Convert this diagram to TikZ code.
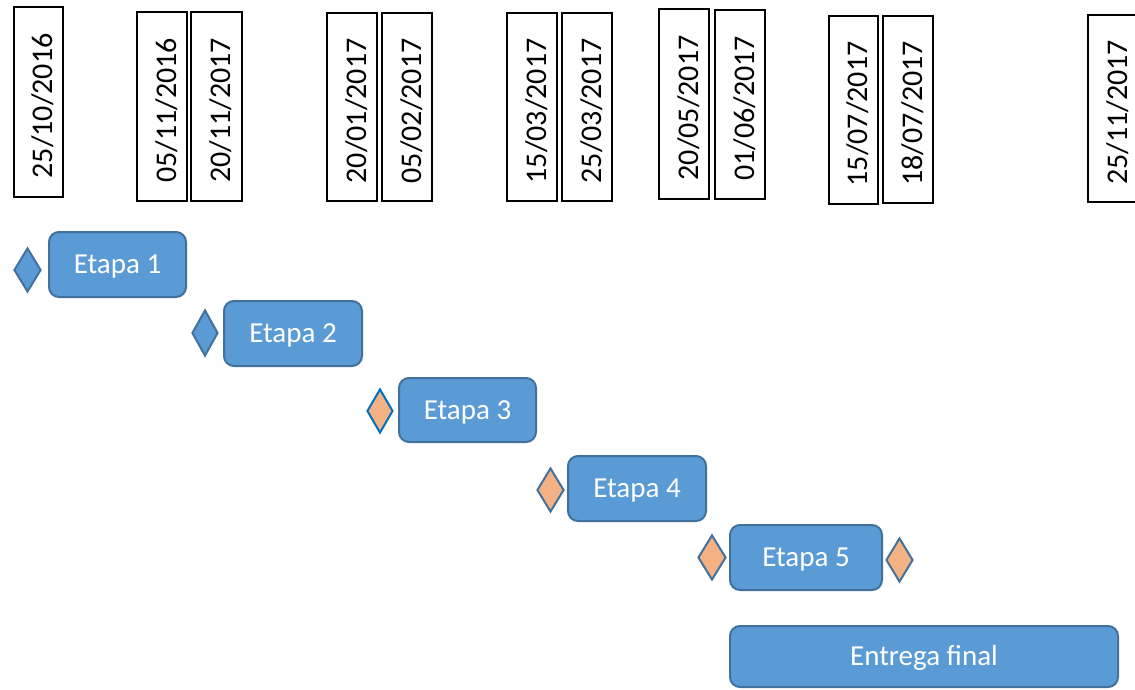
\documentclass[tikz,border=0pt]{standalone}
\usepackage{fontspec}
\setmainfont{Carlito}
\usetikzlibrary{shapes.geometric}
\definecolor{boxfill}{HTML}{5B9BD5}
\definecolor{boxline}{HTML}{41719C}
\definecolor{orangefill}{HTML}{F4B183}
\definecolor{brightblue}{HTML}{0070C0}
\newcommand{\dt}[1]{#1\kern8pt\relax}
\tikzset{
  datebox/.style={draw=black, line width=1.6pt, rotate=90, inner sep=0pt,
    text height=28pt, text depth=0pt,
    font=\fontsize{30}{36}\selectfont},
  stage/.style={draw=boxline, fill=boxfill, line width=2pt, rounded corners=10pt,
    text=white, inner sep=0pt, text height=18.7pt, text depth=0pt,
    font=\fontsize{29}{35}\selectfont},
  milestone/.style={diamond, draw=boxline, line width=2pt, inner sep=0pt, fill=boxfill},
  milestoneo/.style={milestone, fill=orangefill},
}
\begin{document}
\begin{tikzpicture}[x=1pt,y=-1pt]
\useasboundingbox (0,0) rectangle (1135,690);
% date boxes
\node[datebox, minimum width=190pt, minimum height=49pt] (d1) at (38.5,102) {\dt{25/10/2016}};
\node[datebox, minimum width=189pt, minimum height=50pt] (d2) at (162,106.5) {\dt{05/11/2016}};
\node[datebox, minimum width=189pt, minimum height=51pt] (d3) at (216.5,106.5) {\dt{20/11/2017}};
\node[datebox, minimum width=188pt, minimum height=50pt] (d4) at (352,107) {\dt{20/01/2017}};
\node[datebox, minimum width=188pt, minimum height=50pt] (d5) at (407,107) {\dt{05/02/2017}};
\node[datebox, minimum width=188pt, minimum height=50pt] (d6) at (532,107) {\dt{15/03/2017}};
\node[datebox, minimum width=188pt, minimum height=50pt] (d7) at (587,107) {\dt{25/03/2017}};
\node[datebox, minimum width=190pt, minimum height=50pt] (d8) at (684,104) {\dt{20/05/2017}};
\node[datebox, minimum width=189pt, minimum height=50pt] (d9) at (740,104.5) {\dt{01/06/2017}};
\node[datebox, minimum width=188pt, minimum height=49pt] (d10) at (853.5,110) {\dt{15/07/2017}};
\node[datebox, minimum width=187pt, minimum height=50pt] (d11) at (908,109.5) {\dt{18/07/2017}};
\node[datebox, minimum width=187pt, minimum height=50pt] (d12) at (1113,108.5) {\dt{25/11/2017}};
% stages
\node[stage, minimum width=137pt, minimum height=65pt] (e1) at (117.5,264.5) {Etapa 1};
\node[stage, minimum width=138pt, minimum height=65pt] (e2) at (293,333.5) {Etapa 2};
\node[stage, minimum width=137pt, minimum height=64pt] (e3) at (467.5,410) {Etapa 3};
\node[stage, minimum width=138pt, minimum height=65pt] (e4) at (637,488.5) {Etapa 4};
\node[stage, minimum width=152pt, minimum height=65pt] (e5) at (806,557.5) {Etapa 5};
\node[stage, minimum width=388pt, minimum height=61pt] (ef) at (924,656.5) {Entrega final};
% milestones
\node[milestone, minimum width=27pt, minimum height=44pt] (m1) at (27.5,270) {};
\node[milestone, minimum width=26pt, minimum height=46pt] (m2) at (205,333) {};
\node[milestoneo, draw=brightblue, minimum width=26pt, minimum height=44pt] (m3) at (380,411) {};
\node[milestoneo, minimum width=27pt, minimum height=44pt] (m4) at (550.5,490) {};
\node[milestoneo, minimum width=28pt, minimum height=45pt] (m5) at (712,557.5) {};
\node[milestoneo, minimum width=27pt, minimum height=44pt] (m6) at (899.5,560) {};
\end{tikzpicture}
\end{document}
